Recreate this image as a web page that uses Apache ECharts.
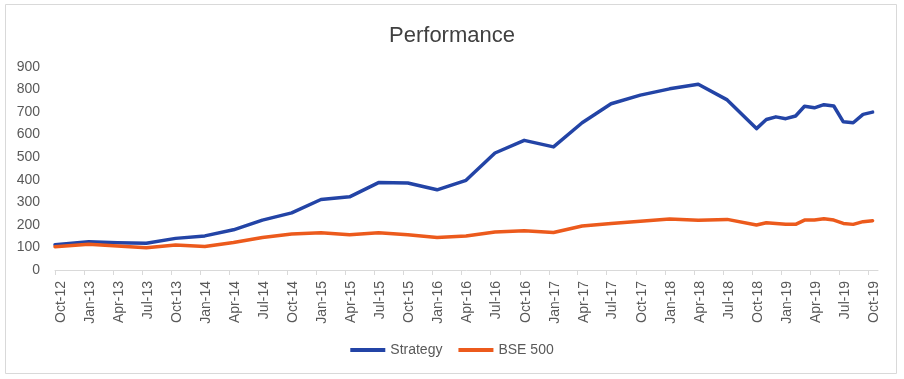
<!DOCTYPE html>
<html>
<head>
<meta charset="utf-8">
<script src="https://cdn.jsdelivr.net/npm/echarts@6/dist/echarts.min.js"></script>
<style>
  html, body { margin: 0; padding: 0; background: #ffffff; }
  #chart { width: 904px; height: 379px; }
</style>
</head>
<body>
<div id="chart"></div>
<script>
// ---- data ----
const dates = [
  '2012-10-01', '2013-01-15', '2013-04-15', '2013-07-15', '2013-10-15',
  '2014-01-15', '2014-04-15', '2014-07-15', '2014-10-15', '2015-01-15',
  '2015-04-15', '2015-07-15', '2015-10-15', '2016-01-15', '2016-04-15',
  '2016-07-15', '2016-10-15', '2017-01-15', '2017-04-15', '2017-07-15',
  '2017-10-15', '2018-01-15', '2018-04-15', '2018-07-15', '2018-10-15',
  '2018-11-15', '2018-12-15', '2019-01-15', '2019-02-15', '2019-03-15',
  '2019-04-15', '2019-05-15', '2019-06-15', '2019-07-15', '2019-08-15',
  '2019-09-15', '2019-10-15'
];
const strategy = [
  112, 125, 121, 118, 140,
  151, 178, 221, 253, 312,
  324, 387, 385, 355, 397,
  518, 574, 545, 652, 736,
  774, 802, 822, 753, 626,
  666, 678, 670, 682, 725,
  718, 732, 726, 656, 652,
  689, 699
];
const bse500 = [
  103, 114, 106, 99, 111,
  104, 122, 144, 159, 165,
  156, 165, 156, 144, 151,
  168, 174, 166, 195, 206,
  216, 226, 220, 224, 199,
  209, 206, 203, 202, 221,
  221, 227, 221, 206, 202,
  214, 218
];
const tickLabels = [
  'Oct-12', 'Jan-13', 'Apr-13', 'Jul-13', 'Oct-13', 'Jan-14', 'Apr-14', 'Jul-14',
  'Oct-14', 'Jan-15', 'Apr-15', 'Jul-15', 'Oct-15', 'Jan-16', 'Apr-16', 'Jul-16',
  'Oct-16', 'Jan-17', 'Apr-17', 'Jul-17', 'Oct-17', 'Jan-18', 'Apr-18', 'Jul-18',
  'Oct-18', 'Jan-19', 'Apr-19', 'Jul-19', 'Oct-19'
];
const seriesNames = ['Strategy', 'BSE 500'];

// ---- build helpers ----
const monthIdx = { Jan: 0, Feb: 1, Mar: 2, Apr: 3, May: 4, Jun: 5, Jul: 6, Aug: 7, Sep: 8, Oct: 9, Nov: 10, Dec: 11 };
const DAY = 86400000;
function labelToDay(lbl) {
  const [m, y] = lbl.split('-');
  return Date.UTC(2000 + Number(y), monthIdx[m], 1) / DAY;
}
const tickDays = tickLabels.map(labelToDay);
const labelByDay = {};
tickDays.forEach((t, i) => { labelByDay[t] = tickLabels[i]; });
function toDay(s) {
  const [y, m, d] = s.split('-').map(Number);
  return Date.UTC(y, m - 1, d) / DAY;
}
const xMin = tickDays[0];
const lastTick = new Date(tickDays[tickDays.length - 1] * DAY);
const xMax = Date.UTC(lastTick.getUTCFullYear(), lastTick.getUTCMonth() + 1, 1) / DAY;

const stratData = dates.map((d, i) => [toDay(d), strategy[i]]);
const bseData = dates.map((d, i) => [toDay(d), bse500[i]]);

const FONT = 'Liberation Sans';
const chart = echarts.init(document.getElementById('chart'), null, { renderer: 'canvas' });
chart.setOption({
  animation: false,
  backgroundColor: '#ffffff',
  title: {
    text: 'Performance',
    left: 'center',
    top: 20,
    textStyle: { fontFamily: FONT, fontSize: 22, fontWeight: 'normal', color: '#404040' }
  },
  graphic: [{
    type: 'rect',
    shape: { x: 5.5, y: 4.5, width: 891, height: 369 },
    style: { fill: 'none', stroke: '#d9d9d9', lineWidth: 1 },
    silent: true
  }],
  legend: {
    data: seriesNames,
    bottom: 17,
    left: 'center',
    icon: 'rect',
    itemWidth: 35,
    itemHeight: 4,
    itemGap: 16,
    textStyle: { fontFamily: FONT, fontSize: 14, color: '#595959' }
  },
  grid: { left: 55, right: 26, top: 66.7, bottom: 109, containLabel: false },
  xAxis: {
    type: 'value',
    min: xMin,
    max: xMax,
    splitLine: { show: false },
    axisLine: { show: true, lineStyle: { color: '#d9d9d9', width: 1 } },
    axisTick: { show: true, length: 5, lineStyle: { color: '#d9d9d9' }, customValues: tickDays },
    axisLabel: {
      customValues: tickDays,
      rotate: 90,
      margin: 11,
      verticalAlign: 'top',
      lineHeight: 12,
      fontFamily: FONT,
      fontSize: 14,
      color: '#595959',
      formatter: function (v) { return labelByDay[v] || ''; }
    }
  },
  yAxis: {
    type: 'value',
    min: 0,
    max: 900,
    interval: 100,
    splitLine: { show: false },
    axisLine: { show: false },
    axisTick: { show: false },
    axisLabel: { margin: 15, fontFamily: FONT, fontSize: 14, color: '#595959' }
  },
  series: [
    {
      name: seriesNames[0],
      type: 'line',
      data: stratData,
      showSymbol: false,
      symbol: 'none',
      color: '#2344a6',
      lineStyle: { width: 3.5, color: '#2344a6', cap: 'round', join: 'round' }
    },
    {
      name: seriesNames[1],
      type: 'line',
      data: bseData,
      showSymbol: false,
      symbol: 'none',
      color: '#ec5a1c',
      lineStyle: { width: 3.5, color: '#ec5a1c', cap: 'round', join: 'round' }
    }
  ]
});
</script>
</body>
</html>
